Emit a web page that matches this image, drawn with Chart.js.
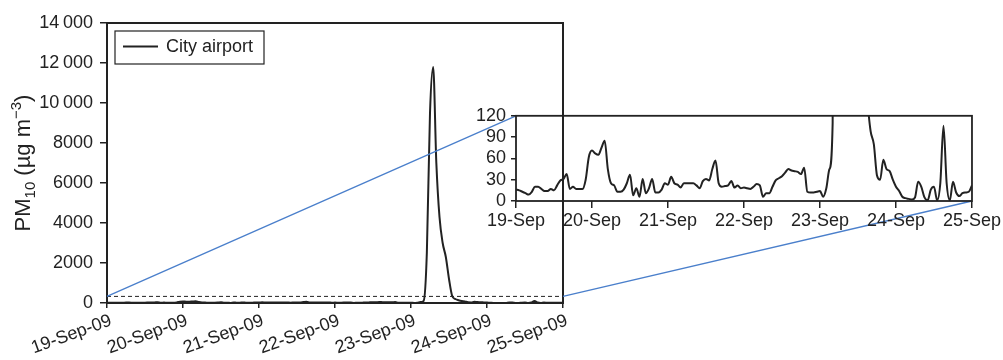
<!DOCTYPE html>
<html>
<head>
<meta charset="utf-8">
<script src="https://cdn.jsdelivr.net/npm/chart.js@4.4.0/dist/chart.umd.min.js"></script>
<style>
  html, body { margin: 0; padding: 0; background: #fff; }
  #wrap { position: relative; width: 1003px; height: 360px; }
  #mainChart { position: absolute; left: 0; top: 0; }
  #insetChart { position: absolute; left: 470px; top: 100px; }
</style>
</head>
<body>
<div id="wrap">
  <canvas id="mainChart" width="1003" height="360"></canvas>
  <canvas id="insetChart" width="533" height="135"></canvas>
</div>
<script>
const seriesName = 'City airport';
const mainDayLabels = ['19-Sep-09', '20-Sep-09', '21-Sep-09', '22-Sep-09', '23-Sep-09', '24-Sep-09', '25-Sep-09'];
const insetDayLabels = ['19-Sep', '20-Sep', '21-Sep', '22-Sep', '23-Sep', '24-Sep', '25-Sep'];
const mainYTicks = [0, 2000, 4000, 6000, 8000, 10000, 12000, 14000];
const mainYLabels = ['0', '2000', '4000', '6000', '8000', '10\u2009000', '12\u2009000', '14\u2009000'];
const insetYTicks = [0, 30, 60, 90, 120];
const zoomLevel = 330;   // dashed line = top of the zoomed range

// hourly PM10 (µg m-3), 19-Sep 00:00 .. 25-Sep 00:00
const pm10Hourly = [
  16, 15, 13, 11, 9, 13, 20, 20, 17, 14, 14, 17, 15, 22, 29, 31, 38, 17, 20, 17, 17, 17, 30, 62,
  71, 67, 65, 75, 85, 45, 25, 22, 13, 13, 16, 25, 37, 8, 18, 6, 31, 11, 18, 31, 12, 12, 16, 25,
  23, 34, 25, 23, 19, 25, 25, 25, 25, 22, 18, 28, 31, 29, 45, 57, 25, 20, 21, 22, 28, 19, 22, 18,
  19, 18, 17, 20, 24, 22, 6, 11, 11, 20, 29, 32, 35, 40, 45, 43, 42, 41, 38, 47, 13, 12, 12, 13,
  14, 6, 18, 45, 110, 2500, 9500, 11800, 7000, 4300, 3000, 2300, 1200, 350, 200, 140, 98, 80, 36, 30,
  58, 45, 42, 30, 20, 14, 6, 4, 3, 2, 5, 27, 20, 5, 1, 16, 20, 1, 25, 106, 25, 1, 27, 12,
  7, 11, 12, 13, 22
];

Chart.defaults.font.family = "'Liberation Sans', Arial, sans-serif";
Chart.defaults.font.size = 18;
Chart.defaults.color = '#222';

const ink = '#222';
const points = pm10Hourly.map((v, i) => ({ x: i / 24, y: v }));

function frame(width) {
    return {
        id: 'frame',
        afterDatasetsDraw(chart) {
            const a = chart.chartArea;
            const ctx = chart.ctx;
            ctx.save();
            ctx.strokeStyle = ink;
            ctx.lineWidth = width;
            ctx.strokeRect(a.left, a.top, a.right - a.left, a.bottom - a.top);
            ctx.restore();
        }
    };
}

function xAxis(labels, tickLen, rot, height, shift) {
    return {
        type: 'linear', min: 0, max: 6,
        border: { display: false },
        grid: { drawOnChartArea: false, color: ink, lineWidth: 1.5, tickLength: tickLen },
        ticks: {
            stepSize: 1, autoSkip: false, color: ink, padding: 2, labelOffset: shift,
            minRotation: rot, maxRotation: rot,
            callback: v => labels[v]
        },
        afterFit: s => { s.height = height; }
    };
}

// inset: same series, zoomed to 0-120
const insetChart = new Chart(document.getElementById('insetChart'), {
    type: 'line',
    data: {
        datasets: [{
            label: seriesName,
            data: points,
            borderColor: ink,
            borderWidth: 2,
            pointRadius: 0,
            cubicInterpolationMode: 'monotone'
        }]
    },
    options: {
        responsive: false,
        animation: false,
        layout: { padding: { top: 14, right: 31, left: 0, bottom: 0 } },
        plugins: { legend: { display: false }, tooltip: { enabled: false } },
        scales: {
            x: xAxis(insetDayLabels, 7, 0, 34, 0),
            y: {
                min: 0, max: 120,
                border: { display: false },
                grid: { drawOnChartArea: false, color: ink, lineWidth: 1.5, tickLength: 5 },
                ticks: {
                    stepSize: 30, autoSkip: false, color: ink, padding: 5,
                    callback: v => insetYTicks.includes(v) ? String(v) : ''
                },
                afterFit: s => { s.width = 46; }
            }
        }
    },
    plugins: [frame(1.8)]
});

const legendBox = {
    id: 'legendBox',
    afterDraw(chart) {
        const a = chart.chartArea;
        const ctx = chart.ctx;
        const x = a.left + 8, y = a.top + 8;
        ctx.save();
        ctx.strokeStyle = ink;
        ctx.lineWidth = 1.2;
        ctx.strokeRect(x, y, 149, 33);
        ctx.lineWidth = 2;
        ctx.beginPath();
        ctx.moveTo(x + 8, y + 15.5);
        ctx.lineTo(x + 43, y + 15.5);
        ctx.stroke();
        ctx.fillStyle = ink;
        ctx.font = "18px 'Liberation Sans', Arial, sans-serif";
        ctx.textBaseline = 'middle';
        ctx.fillText(seriesName, x + 51, y + 16);
        ctx.restore();
    }
};

const yTitle = {
    id: 'yTitle',
    afterDraw(chart) {
        const a = chart.chartArea;
        const ctx = chart.ctx;
        const parts = [
            { t: 'PM', size: 22, dy: 0 },
            { t: '10', size: 15, dy: 5 },
            { t: ' (\u00b5g m', size: 22, dy: 0 },
            { t: '\u22123', size: 15, dy: -9 },
            { t: ')', size: 22, dy: 0 }
        ];
        ctx.save();
        ctx.fillStyle = ink;
        ctx.textBaseline = 'alphabetic';
        let total = 0;
        parts.forEach(p => {
            ctx.font = p.size + "px 'Liberation Sans', Arial, sans-serif";
            p.w = ctx.measureText(p.t).width;
            total += p.w;
        });
        ctx.translate(22, (a.top + a.bottom) / 2);
        ctx.rotate(-Math.PI / 2);
        let cx = -total / 2;
        parts.forEach(p => {
            ctx.font = p.size + "px 'Liberation Sans', Arial, sans-serif";
            ctx.fillText(p.t, cx, 8 + p.dy);
            cx += p.w;
        });
        ctx.restore();
    }
};

// blue lines from the zoomed band to the inset corners
const zoomLines = {
    id: 'zoomLines',
    afterDraw(chart) {
        const xs = chart.scales.x, ys = chart.scales.y;
        const ia = insetChart.chartArea;
        const ox = insetChart.canvas.offsetLeft, oy = insetChart.canvas.offsetTop;
        const ctx = chart.ctx;
        ctx.save();
        ctx.strokeStyle = '#4a7fcb';
        ctx.lineWidth = 1.3;
        ctx.beginPath();
        ctx.moveTo(xs.getPixelForValue(0), ys.getPixelForValue(zoomLevel));
        ctx.lineTo(ox + ia.left, oy + ia.top);
        ctx.moveTo(xs.getPixelForValue(6), ys.getPixelForValue(zoomLevel));
        ctx.lineTo(ox + ia.right, oy + ia.bottom);
        ctx.stroke();
        ctx.restore();
    }
};

new Chart(document.getElementById('mainChart'), {
    type: 'line',
    data: {
        datasets: [{
            label: seriesName,
            data: points,
            borderColor: ink,
            borderWidth: 2,
            pointRadius: 0,
            cubicInterpolationMode: 'monotone'
        }, {
            label: 'zoom range',
            data: [{ x: 0, y: zoomLevel }, { x: 6, y: zoomLevel }],
            borderColor: ink,
            borderWidth: 1,
            borderDash: [4, 3],
            pointRadius: 0
        }]
    },
    options: {
        responsive: false,
        animation: false,
        layout: { padding: { top: 23, right: 440, left: 0, bottom: 0 } },
        plugins: { legend: { display: false }, tooltip: { enabled: false } },
        scales: {
            x: xAxis(mainDayLabels, 5, 20, 57, 4),
            y: {
                min: 0, max: 14000,
                border: { display: false },
                grid: { drawOnChartArea: false, color: ink, lineWidth: 1.5, tickLength: 7 },
                ticks: {
                    stepSize: 2000, autoSkip: false, color: ink, padding: 7,
                    callback: v => mainYLabels[mainYTicks.indexOf(v)]
                },
                afterFit: s => { s.width = 107; }
            }
        }
    },
    plugins: [frame(2), legendBox, yTitle, zoomLines]
});
</script>
</body>
</html>
